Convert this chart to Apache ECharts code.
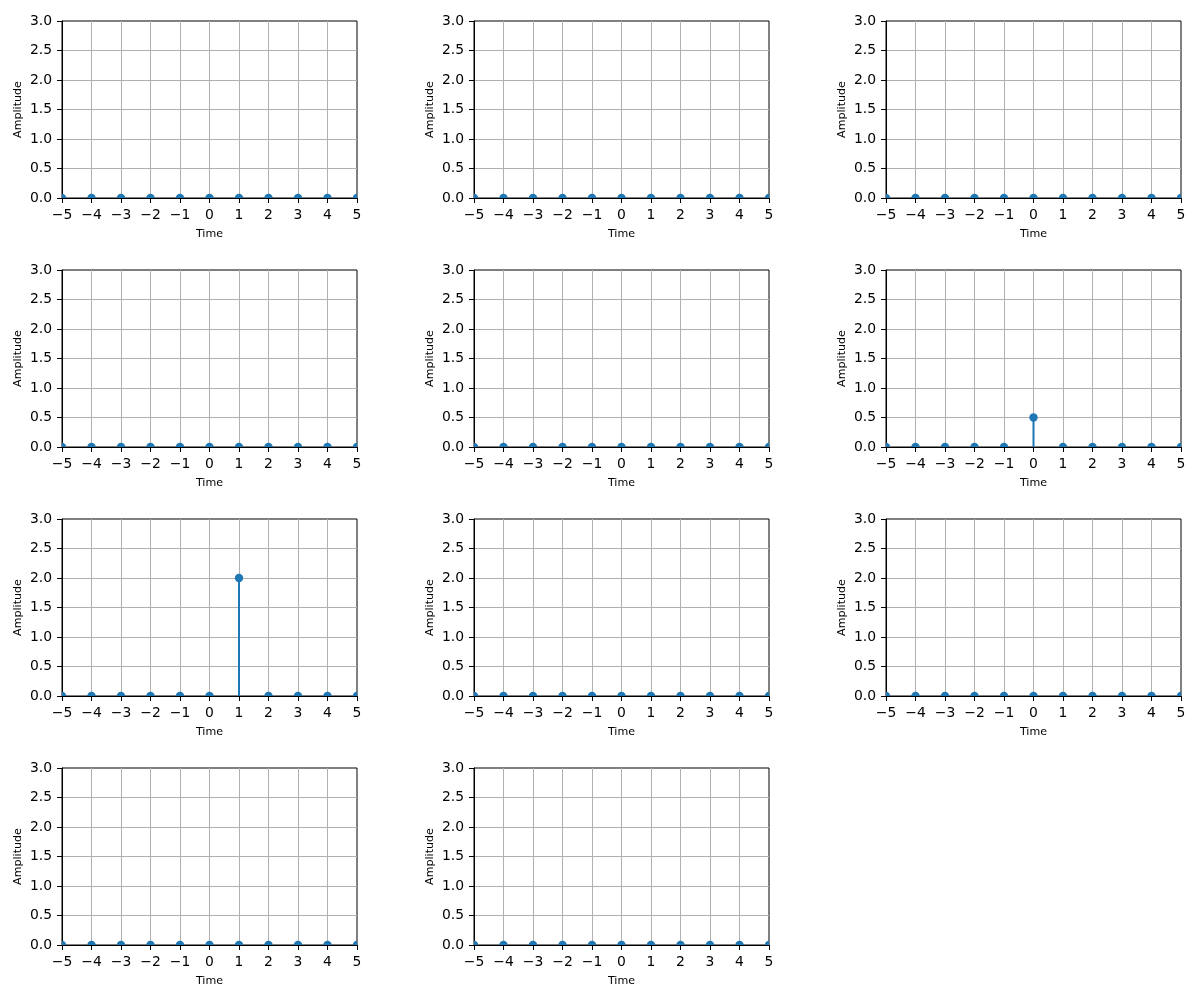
<!DOCTYPE html>
<html><head><meta charset="utf-8">
<script src="https://cdn.jsdelivr.net/npm/echarts@6/dist/echarts.min.js"></script>
<style>html,body{margin:0;padding:0;background:#fff}#c{width:1200px;height:1000px}</style>
</head><body><div id="c"></div>
<script>
const time = [-5,-4,-3,-2,-1,0,1,2,3,4,5];
const s1  = [0,0,0,0,0,0,0,0,0,0,0];
const s2  = [0,0,0,0,0,0,0,0,0,0,0];
const s3  = [0,0,0,0,0,0,0,0,0,0,0];
const s4  = [0,0,0,0,0,0,0,0,0,0,0];
const s5  = [0,0,0,0,0,0,0,0,0,0,0];
const s6  = [0,0,0,0,0,0.5,0,0,0,0,0];
const s7  = [0,0,0,0,0,0,2.0,0,0,0,0];
const s8  = [0,0,0,0,0,0,0,0,0,0,0];
const s9  = [0,0,0,0,0,0,0,0,0,0,0];
const s10 = [0,0,0,0,0,0,0,0,0,0,0];
const s11 = [0,0,0,0,0,0,0,0,0,0,0];
const allSeries = [s1,s2,s3,s4,s5,s6,s7,s8,s9,s10,s11];
const xLabel = 'Time';
const yLabel = 'Amplitude';

const colLeft = [62, 474, 886];
const rowTop = [21, 270, 519, 768];
const W = 295, H = 177;
const font = 'DejaVu Sans';
const blue = '#1f77b4';

const grids = [], xAxes = [], yAxes = [], series = [];
allSeries.forEach((vals, i) => {
  const r = Math.floor(i / 3), c = i % 3;
  grids.push({left: colLeft[c], top: rowTop[r], width: W, height: H, show: true,
    borderColor: '#000', borderWidth: 1, backgroundColor: 'transparent', containLabel: false});
  xAxes.push({type: 'value', gridIndex: i, min: -5, max: 5, interval: 1,
    name: xLabel, nameLocation: 'middle', nameGap: 31,
    nameTextStyle: {fontFamily: font, fontSize: 11.1, color: '#000'},
    axisLine: {show: true, onZero: false, lineStyle: {color: '#000', width: 1}},
    axisTick: {show: true, inside: false, length: 5, lineStyle: {color: '#000', width: 1}},
    axisLabel: {show: true, margin: 10, fontFamily: font, fontSize: 13.9, color: '#000',
      showMinLabel: true, showMaxLabel: true,
      formatter: v => (v < 0 ? '\u2212' + Math.abs(v) : String(v))},
    splitLine: {show: true, showMinLine: false, showMaxLine: false, lineStyle: {color: '#b0b0b0', width: 1}}});
  yAxes.push({type: 'value', gridIndex: i, min: 0, max: 3, interval: 0.5,
    name: yLabel, nameLocation: 'middle', nameGap: 38, nameRotate: 90,
    nameTextStyle: {fontFamily: font, fontSize: 11.1, color: '#000'},
    axisLine: {show: true, onZero: false, lineStyle: {color: '#000', width: 1}},
    axisTick: {show: true, inside: false, length: 5, lineStyle: {color: '#000', width: 1}},
    axisLabel: {show: true, margin: 10, fontFamily: font, fontSize: 13.9, color: '#000',
      showMinLabel: true, showMaxLabel: true, padding: [4, 0, 0, 0],
      formatter: v => v.toFixed(1)},
    splitLine: {show: true, showMinLine: false, showMaxLine: false, lineStyle: {color: '#b0b0b0', width: 1}}});
  series.push({type: 'custom', xAxisIndex: i, yAxisIndex: i, clip: true, z: 1,
    data: time.map((t, k) => [t, vals[k]]),
    renderItem: (params, api) => {
      const p = api.coord([api.value(0), api.value(1)]);
      const b = api.coord([api.value(0), 0]);
      return {type: 'group', children: [
        {type: 'line', shape: {x1: b[0], y1: b[1], x2: p[0], y2: p[1]},
          style: {stroke: blue, lineWidth: 2}},
        {type: 'circle', shape: {cx: p[0], cy: p[1], r: 4.2}, style: {fill: blue}}
      ]};
    }});
});

const chart = echarts.init(document.getElementById('c'), null, {renderer: 'canvas'});
chart.setOption({animation: false, backgroundColor: '#fff', grid: grids,
  xAxis: xAxes, yAxis: yAxes, series: series});
</script></body></html>
